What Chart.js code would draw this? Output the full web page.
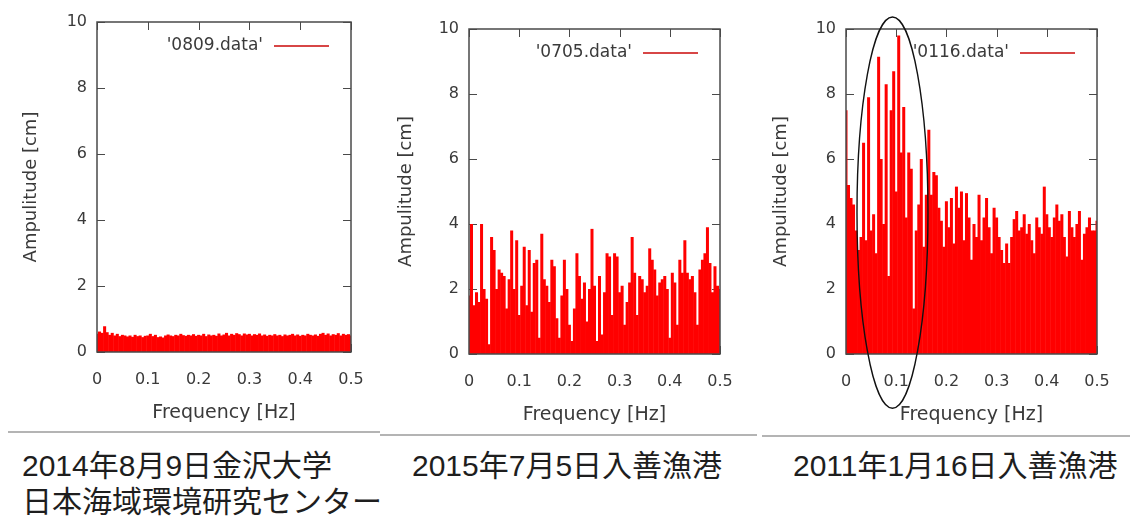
<!DOCTYPE html>
<html lang="ja">
<head>
<meta charset="utf-8">
<script src="https://cdn.jsdelivr.net/npm/chart.js@4.4.1/dist/chart.umd.min.js"></script>
<style>
  body { margin: 0; background: #fff; }
  #stage { position: relative; width: 1130px; height: 516px; overflow: hidden; }
  canvas { position: absolute; top: 0; }
  .rule { position: absolute; height: 2px; background: #b4b4b4; }
  .caption {
    position: absolute; top: 448px;
    font-family: "Liberation Sans", "Noto Sans CJK JP", sans-serif;
    font-size: 30px; line-height: 36px; color: #1e1e1e; white-space: nowrap;
  }
</style>
</head>
<body>
<div id="stage">
  <canvas id="g0809" width="375" height="432" style="left:0px"></canvas>
  <canvas id="g0705" width="377" height="432" style="left:375px"></canvas>
  <canvas id="g0116" width="378" height="432" style="left:752px"></canvas>

  <div class="rule" style="left:8px;width:372px;top:431px"></div>
  <div class="rule" style="left:380px;width:377px;top:434px"></div>
  <div class="rule" style="left:762px;width:368px;top:435px"></div>

  <div class="caption" style="left:22px">2014年8月9日金沢大学<br>日本海域環境研究センター</div>
  <div class="caption" style="left:412px">2015年7月5日入善漁港</div>
  <div class="caption" style="left:793px">2011年1月16日入善漁港</div>
</div>

<script>
// spectrum bins: 0 .. 0.5 Hz, one bar every 0.005 Hz
const binStep = 0.005;
const freqTicks = [0, 0.1, 0.2, 0.3, 0.4, 0.5];
const ampTicks = [0, 2, 4, 6, 8, 10];

// 2014/8/9 Kanazawa
const amp0809 = [
  0.55, 0.62, 0.58, 0.78, 0.60, 0.52, 0.58, 0.50, 0.55, 0.48,
  0.52, 0.50, 0.47, 0.50, 0.46, 0.52, 0.48, 0.50, 0.45, 0.49,
  0.50, 0.55, 0.48, 0.52, 0.45, 0.47, 0.44, 0.50, 0.53, 0.50,
  0.48, 0.52, 0.50, 0.55, 0.51, 0.49, 0.52, 0.50, 0.54, 0.49,
  0.52, 0.50, 0.55, 0.48, 0.53, 0.50, 0.52, 0.49, 0.56, 0.50,
  0.53, 0.58, 0.50, 0.55, 0.52, 0.57, 0.54, 0.50, 0.56, 0.53,
  0.55, 0.50, 0.54, 0.52, 0.56, 0.50, 0.53, 0.49, 0.52, 0.50,
  0.54, 0.50, 0.52, 0.48, 0.53, 0.50, 0.52, 0.55, 0.50, 0.53,
  0.49, 0.52, 0.50, 0.55, 0.52, 0.50, 0.53, 0.49, 0.55, 0.58,
  0.52, 0.56, 0.50, 0.54, 0.52, 0.57, 0.50, 0.55, 0.52, 0.54,
  0.50
];

// 2015/7/5 Nyuzen
const amp0705 = [
  1.8, 4.0, 1.5, 1.9, 1.6, 4.0, 2.0, 1.7, 0.3, 3.6,
  3.2, 2.0, 2.6, 2.5, 2.4, 1.4, 2.3, 3.8, 2.0, 3.5,
  1.2, 2.1, 3.3, 1.5, 3.2, 1.3, 2.8, 2.9, 0.5, 3.7,
  2.3, 2.1, 1.6, 2.9, 2.7, 1.1, 0.5, 1.8, 2.9, 2.0,
  0.9, 0.4, 1.4, 3.1, 2.4, 1.7, 2.2, 1.0, 2.0, 3.85,
  2.1, 0.4, 2.4, 0.6, 1.9, 3.1, 3.0, 1.2, 3.1, 3.0,
  1.9, 2.1, 0.9, 1.6, 2.2, 3.6, 2.5, 1.2, 2.4, 2.3,
  1.9, 2.1, 3.25, 2.9, 2.6, 1.8, 2.2, 2.3, 2.4, 2.0,
  0.5, 2.5, 2.2, 0.9, 2.9, 2.5, 3.5, 2.5, 2.3, 2.4,
  1.9, 0.9, 2.6, 2.9, 3.1, 3.9, 2.8, 1.9, 2.7, 2.1,
  2.0
];

// 2011/1/16 Nyuzen
const amp0116 = [
  7.5, 5.2, 4.8, 4.6, 3.8, 3.2, 3.6, 6.5, 3.5, 7.9,
  3.8, 4.3, 3.1, 9.15, 6.0, 4.0, 8.3, 2.4, 7.5, 8.7,
  5.0, 9.8, 6.2, 7.6, 4.2, 6.2, 5.7, 1.4, 3.8, 4.6,
  6.0, 3.3, 4.9, 6.9, 4.9, 5.6, 5.5, 4.5, 4.1, 3.3,
  4.7, 3.9, 4.8, 3.4, 5.15, 4.5, 5.0, 3.5, 4.95, 4.2,
  2.9, 4.0, 3.6, 4.9, 3.5, 4.2, 4.8, 3.9, 3.1, 4.5,
  4.2, 3.6, 3.2, 2.8, 3.4, 2.8, 3.6, 4.15, 4.4, 3.8,
  3.9, 4.3, 3.7, 4.0, 3.5, 3.1, 4.2, 3.9, 3.7, 5.15,
  4.3, 3.9, 3.6, 4.2, 4.6, 4.1, 4.3, 3.6, 3.0, 4.4,
  3.9, 3.6, 4.0, 4.4, 2.9, 3.7, 3.9, 4.2, 3.8, 3.8,
  4.1
];

const freqs = amp0809.map((_, i) => +(i * binStep).toFixed(3));

const inkColor = '#3a3a3a';
const frameColor = '#4a4a4a';
Chart.defaults.font.family = 'DejaVu Sans';
Chart.defaults.color = inkColor;

// gnuplot style: box round the plot, ticks on all four sides pointing inward
const gnuFrame = {
  id: 'gnuFrame',
  beforeDatasetsDraw(chart) {
    const {ctx, chartArea: a, scales: {x, y}} = chart;
    ctx.save();
    ctx.strokeStyle = frameColor;
    ctx.lineWidth = 1;
    ctx.beginPath();
    x.ticks.forEach(t => {
      const px = Math.round(x.getPixelForValue(t.value)) + 0.5;
      ctx.moveTo(px, a.top); ctx.lineTo(px, a.top + 8);
      ctx.moveTo(px, a.bottom); ctx.lineTo(px, a.bottom - 8);
    });
    y.ticks.forEach(t => {
      const py = Math.round(y.getPixelForValue(t.value)) + 0.5;
      ctx.moveTo(a.left, py); ctx.lineTo(a.left + 8, py);
      ctx.moveTo(a.right, py); ctx.lineTo(a.right - 8, py);
    });
    ctx.stroke();
    ctx.restore();
  },
  afterDatasetsDraw(chart) {
    const {ctx, chartArea: a} = chart;
    ctx.save();
    ctx.strokeStyle = frameColor;
    ctx.lineWidth = 1.5;
    ctx.strokeRect(a.left, a.top, a.right - a.left, a.bottom - a.top);
    ctx.restore();
  }
};

// key: text first, then the line sample, top right inside the frame
const gnuKey = {
  id: 'gnuKey',
  beforeDatasetsDraw(chart) {
    const {ctx, chartArea: a} = chart;
    const ds = chart.data.datasets[0];
    const y = a.top + 24;
    const lineEnd = a.right - 22;
    const lineStart = lineEnd - 55;
    ctx.save();
    ctx.font = '17px "DejaVu Sans"';
    ctx.fillStyle = inkColor;
    ctx.textAlign = 'right';
    ctx.textBaseline = 'middle';
    ctx.fillText(ds.label, lineStart - 11, y);
    ctx.strokeStyle = 'rgb(215,70,70)';
    ctx.lineWidth = 2;
    ctx.beginPath();
    ctx.moveTo(lineStart, y); ctx.lineTo(lineEnd, y);
    ctx.stroke();
    ctx.restore();
  }
};

// hand-drawn ellipse around the 0.05-0.15 Hz peaks
const ellipseNote = {
  id: 'ellipseNote',
  afterDraw(chart, args, opts) {
    const {ctx, scales: {x, y}} = chart;
    const cx = x.getPixelForValue(opts.freq);
    const cy = y.getPixelForValue(opts.amp);
    const rx = x.getPixelForValue(opts.freq + opts.rFreq) - cx;
    const ry = cy - y.getPixelForValue(opts.amp + opts.rAmp);
    ctx.save();
    ctx.strokeStyle = '#111';
    ctx.lineWidth = 1.4;
    ctx.beginPath();
    ctx.ellipse(cx, cy, rx, ry, 0, 0, Math.PI * 2);
    ctx.stroke();
    ctx.restore();
  }
};

function drawSpectrum(id, label, amps, box, extra) {
  const plugins = [gnuFrame, gnuKey];
  if (extra) plugins.push(ellipseNote);

  return new Chart(document.getElementById(id), {
    type: 'bar',
    data: {
      datasets: [{
        label: label,
        data: freqs.map((f, i) => ({x: f, y: amps[i]})),
        backgroundColor: '#ff0000',
        borderWidth: 0,
        barPercentage: 1.2,
        categoryPercentage: 1
      }]
    },
    options: {
      responsive: false,
      animation: false,
      events: [],
      layout: {padding: {left: 0, top: box.top, right: box.right, bottom: 0}},
      plugins: {
        legend: {display: false},
        tooltip: {enabled: false},
        ellipseNote: extra || {}
      },
      scales: {
        x: {
          type: 'linear',
          offset: false,
          min: 0,
          max: 0.5,
          afterBuildTicks: s => { s.ticks = freqTicks.map(v => ({value: v})); },
          afterFit: s => { s.height = box.xh; s.paddingLeft = 0; s.paddingRight = 0; },
          grid: {display: false, drawTicks: false, offset: false},
          border: {display: false},
          ticks: {padding: 18, font: {size: 16}, color: inkColor, maxRotation: 0},
          title: {
            display: true,
            text: 'Frequency [Hz]',
            font: {size: 19},
            color: inkColor,
            padding: {top: 0, bottom: box.xtb}
          }
        },
        y: {
          min: 0,
          max: 10,
          afterBuildTicks: s => { s.ticks = ampTicks.map(v => ({value: v})); },
          afterFit: s => { s.width = box.yw; },
          grid: {display: false, drawTicks: false},
          border: {display: false},
          ticks: {padding: 10, font: {size: 16}, color: inkColor},
          title: {
            display: true,
            text: 'Ampulitude [cm]',
            font: {size: 18},
            color: inkColor,
            padding: {top: box.ytp, bottom: 0}
          }
        }
      }
    },
    plugins: plugins
  });
}

drawSpectrum('g0809', "'0809.data'", amp0809,
  {top: 22, right: 24, xh: 80, yw: 97, xtb: 8, ytp: 21});
drawSpectrum('g0705', "'0705.data'", amp0705,
  {top: 29, right: 32, xh: 78, yw: 94, xtb: 6, ytp: 21});
drawSpectrum('g0116', "'0116.data'", amp0116,
  {top: 29, right: 33, xh: 78, yw: 94, xtb: 6, ytp: 19},
  {freq: 0.0926, amp: 4.35, rFreq: 0.0707, rAmp: 6.02});
</script>
</body>
</html>
